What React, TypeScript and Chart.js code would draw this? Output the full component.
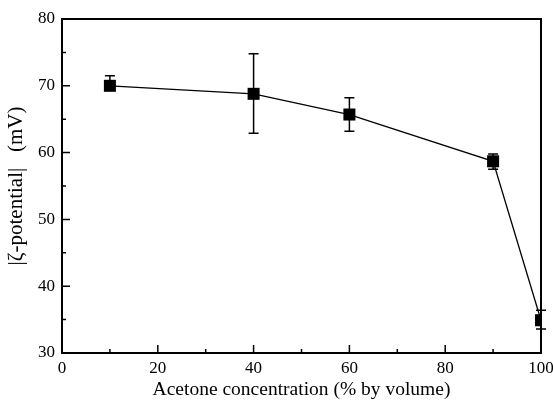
import { useEffect, useRef } from "react";
import { Chart, registerables } from "chart.js";
Chart.register(...registerables);

const acetone = [10, 40, 60, 90, 100];
const zeta = [70.0, 68.8, 65.7, 58.7, 34.9];
const errHigh = [71.5, 74.8, 68.2, 59.8, 36.4];
const errLow = [69.4, 62.9, 63.2, 57.5, 33.6];
const xTickValues = [0, 20, 40, 60, 80, 100];
const yTickValues = [30, 40, 50, 60, 70, 80];

const FONT = "'Liberation Serif', 'Times New Roman', serif";

const decor = {
  id: "decor",
  beforeDatasetsDraw(chart: any) {
    const ctx = chart.ctx;
    const xs = chart.scales.x;
    const ys = chart.scales.y;
    ctx.save();
    ctx.strokeStyle = "#000";
    ctx.lineWidth = 1.5;
    acetone.forEach((c, i) => {
      const px = xs.getPixelForValue(c);
      const yh = ys.getPixelForValue(errHigh[i]);
      const yl = ys.getPixelForValue(errLow[i]);
      ctx.beginPath();
      ctx.moveTo(px, yh);
      ctx.lineTo(px, yl);
      ctx.moveTo(px - 5, yh);
      ctx.lineTo(px + 5, yh);
      ctx.moveTo(px - 5, yl);
      ctx.lineTo(px + 5, yl);
      ctx.stroke();
    });
    ctx.restore();
  },
  afterDraw(chart: any) {
    const ctx = chart.ctx;
    const a = chart.chartArea;
    const xs = chart.scales.x;
    const ys = chart.scales.y;
    ctx.save();
    ctx.strokeStyle = "#000";
    ctx.lineWidth = 2;
    ctx.beginPath();
    ctx.moveTo(a.left, a.top);
    ctx.lineTo(a.right, a.top);
    ctx.lineTo(a.right, a.bottom);
    ctx.stroke();
    ctx.lineWidth = 1.5;
    ctx.beginPath();
    for (let v = 35; v < 80; v += 5) {
      const py = ys.getPixelForValue(v);
      const len = v % 10 === 0 ? 8 : 4;
      ctx.moveTo(a.left, py);
      ctx.lineTo(a.left + len, py);
    }
    for (let v = 10; v < 100; v += 10) {
      const px = xs.getPixelForValue(v);
      const len = v % 20 === 0 ? 8 : 4;
      ctx.moveTo(px, a.bottom);
      ctx.lineTo(px, a.bottom - len);
    }
    ctx.stroke();
    ctx.restore();
  },
};

export default function App() {
  const ref = useRef<HTMLCanvasElement | null>(null);
  useEffect(() => {
    if (!ref.current) return;
    const chart = new Chart(ref.current, {
      type: "line",
      data: {
        datasets: [
          {
            data: acetone.map((c, i) => ({ x: c, y: zeta[i] })),
            borderColor: "#000",
            backgroundColor: "#000",
            borderWidth: 1.3,
            pointStyle: "rect",
            pointRadius: 8.5,
            pointBorderWidth: 0,
            pointBackgroundColor: "#000",
            tension: 0,
          },
        ],
      },
      options: {
        animation: false,
        responsive: false,
        maintainAspectRatio: false,
        layout: { padding: { left: 0, top: 19, right: 12, bottom: 0 } },
        plugins: { legend: { display: false }, tooltip: { enabled: false } },
        scales: {
          x: {
            type: "linear",
            min: 0,
            max: 100,
            afterBuildTicks: (s: any) => {
              s.ticks = xTickValues.map((v) => ({ value: v }));
            },
            afterFit: (s: any) => {
              s.height = 49;
              s.paddingRight = 0;
              s.paddingLeft = 0;
            },
            grid: { display: false, drawTicks: false },
            border: { display: true, color: "#000", width: 2 },
            ticks: {
              color: "#000",
              font: { family: FONT, size: 17 },
              padding: 5,
              maxRotation: 0,
            },
            title: {
              display: true,
              text: "Acetone concentration (% by volume)",
              color: "#000",
              font: { family: FONT, size: 19.5 },
              padding: { top: 0, bottom: 0 },
            },
          },
          y: {
            type: "linear",
            min: 30,
            max: 80,
            afterBuildTicks: (s: any) => {
              s.ticks = yTickValues.map((v) => ({ value: v }));
            },
            afterFit: (s: any) => {
              s.width = 62;
            },
            grid: { display: false, drawTicks: false },
            border: { display: true, color: "#000", width: 2 },
            ticks: {
              color: "#000",
              font: { family: FONT, size: 17 },
              padding: 7,
            },
            title: {
              display: true,
              text: "|ζ-potential|   (mV)",
              color: "#000",
              font: { family: FONT, size: 21 },
              padding: { top: 4, bottom: 0 },
            },
          },
        },
      },
      plugins: [decor],
    });
    return () => chart.destroy();
  }, []);
  return (
    <div style={{ position: "fixed", left: 0, top: 0, width: 553, height: 402, background: "#fff" }}>
      <canvas ref={ref} width={553} height={402} />
    </div>
  );
}
